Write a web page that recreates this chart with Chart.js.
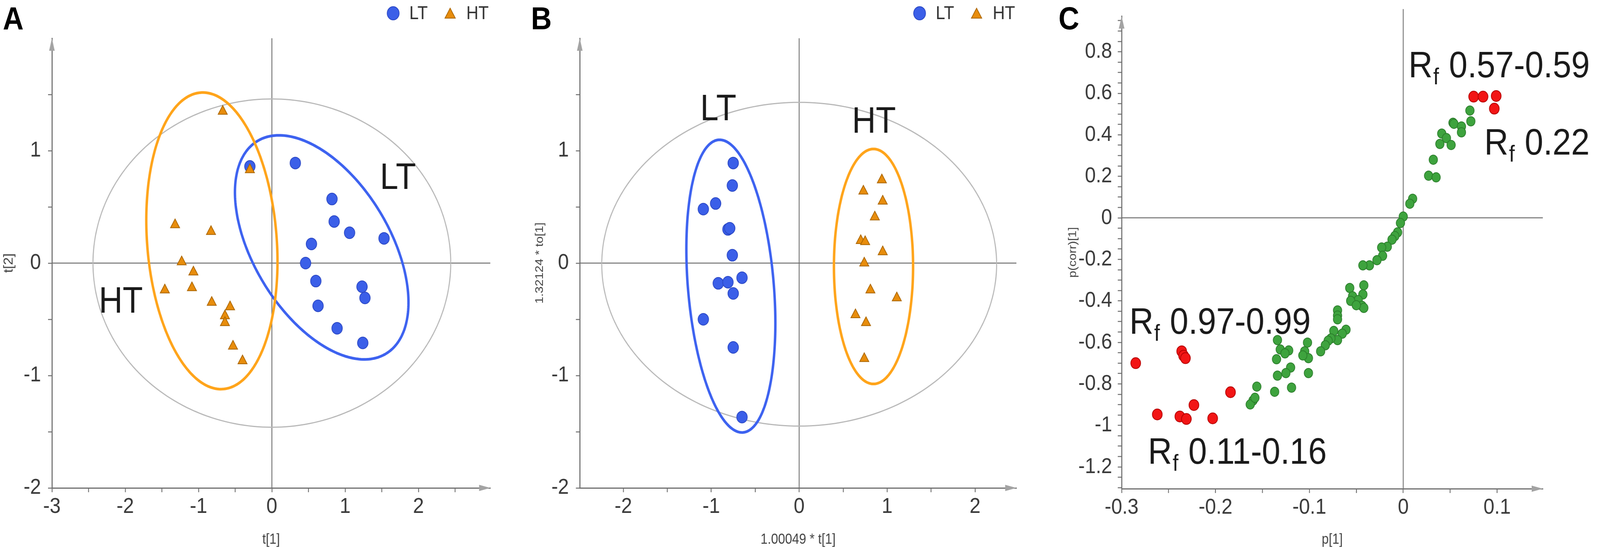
<!DOCTYPE html>
<html>
<head>
<meta charset="utf-8">
<script src="https://cdn.jsdelivr.net/npm/chart.js@4.4.1/dist/chart.umd.min.js"></script>
<style>
  html, body { margin: 0; padding: 0; background: #fff; overflow: hidden; }
  #page { position: absolute; left: 0; top: 0; width: 4562px; height: 1409px; transform-origin: 0 0; }
  .panel { position: absolute; top: 0; height: 1409px; }
  .letter { position: absolute; top: 0; line-height: 1; font: bold 82px "Liberation Sans", Arial, sans-serif; color: #000; }
</style>
</head>
<body>
<div id="page">
<div class="panel" style="left:0;width:1520px"><canvas id="chartA"></canvas></div>
<div class="panel" style="left:1520px;width:1520px"><canvas id="chartB"></canvas></div>
<div class="panel" style="left:3040px;width:1522px"><canvas id="chartC"></canvas></div>
<div class="letter" style="left:8px">A</div>
<div class="letter" style="left:1514px">B</div>
<div class="letter" style="left:3018px">C</div>
</div>
<script>
// Panel A - score plot t[1] / t[2]
const aLtX = [-0.30, 0.32, 0.82, 0.85, 1.06, 1.53, 0.54, 0.46, 0.60, 1.23, 1.27, 0.63, 0.89, 1.24];
const aLtY = [0.86, 0.89, 0.57, 0.37, 0.27, 0.22, 0.17, 0.00, -0.16, -0.21, -0.31, -0.38, -0.58, -0.71];
const aHtX = [-0.67, -0.30, -1.32, -0.83, -1.23, -1.07, -1.46, -1.09, -0.82, -0.57, -0.64, -0.64, -0.53, -0.40];
const aHtY = [1.35, 0.83, 0.34, 0.28, 0.01, -0.08, -0.24, -0.22, -0.35, -0.39, -0.47, -0.53, -0.74, -0.87];
const aXTicks = [-3, -2, -1, 0, 1, 2];
const aXMinor = [-2.5, -1.5, -0.5, 0.5, 1.5, 2.5];
const aYTicks = [-2, -1, 0, 1];
const aYMinor = [-1.5, -0.5, 0.5, 1.5];

// Panel B - 1.00049 * t[1] / 1.32124 * to[1]
const bLtX = [-0.75, -0.76, -0.95, -1.09, -0.81, -0.79, -0.76, -0.65, -0.92, -0.81, -0.75, -1.09, -0.75, -0.65];
const bLtY = [0.89, 0.69, 0.53, 0.48, 0.30, 0.31, 0.07, -0.13, -0.18, -0.17, -0.27, -0.50, -0.75, -1.37];
const bHtX = [0.94, 0.73, 0.95, 0.86, 0.70, 0.75, 0.95, 0.74, 0.81, 1.11, 0.64, 0.76, 0.74];
const bHtY = [0.74, 0.64, 0.55, 0.41, 0.20, 0.19, 0.10, 0.00, -0.24, -0.31, -0.46, -0.53, -0.85];
const bXTicks = [-2, -1, 0, 1, 2];
const bXMinor = [-1.5, -0.5, 0.5, 1.5];
const bYTicks = [-2, -1, 0, 1];
const bYMinor = [-1.5, -0.5, 0.5, 1.5];

// Panel C - S-plot p[1] / p(corr)[1]
const cRedX = [-0.285, -0.236, -0.234, -0.232, -0.262, -0.238, -0.231, -0.223, -0.203, -0.184, 0.075, 0.085, 0.099, 0.097];
const cRedY = [-0.700, -0.643, -0.664, -0.676, -0.947, -0.957, -0.969, -0.902, -0.966, -0.840, 0.584, 0.584, 0.587, 0.526];
const cGreenX = [0.071, 0.072, 0.053, 0.054, 0.062, 0.062, 0.041, 0.046, 0.039, 0.051, 0.032, 0.027, 0.035, 0.010, 0.007,
  0.000, -0.003, -0.006, -0.009, -0.012, -0.017, -0.023, -0.022, -0.028, -0.036, -0.043,
  -0.057, -0.042, -0.043, -0.054, -0.048, -0.056, -0.044, -0.042, -0.050,
  -0.070, -0.070, -0.070, -0.061, -0.065, -0.070, -0.074, -0.077, -0.080, -0.083, -0.088,
  -0.102, -0.105, -0.101, -0.101, -0.107,
  -0.134, -0.131, -0.122, -0.126, -0.135, -0.120, -0.125, -0.134, -0.119, -0.156, -0.137, -0.160, -0.163, -0.158];
const cGreenY = [0.517, 0.465, 0.458, 0.453, 0.440, 0.412, 0.406, 0.384, 0.356, 0.351, 0.280, 0.203, 0.195, 0.092, 0.068,
  0.006, -0.025, -0.070, -0.088, -0.105, -0.139, -0.143, -0.183, -0.204, -0.229, -0.229,
  -0.338, -0.325, -0.369, -0.378, -0.396, -0.400, -0.424, -0.434, -0.421,
  -0.446, -0.471, -0.489, -0.539, -0.558, -0.589, -0.545, -0.581, -0.592, -0.614, -0.643,
  -0.601, -0.643, -0.676, -0.748, -0.663,
  -0.589, -0.634, -0.639, -0.653, -0.681, -0.721, -0.748, -0.760, -0.818, -0.813, -0.838, -0.880, -0.899, -0.867];
const cXTicks = [-0.3, -0.2, -0.1, 0, 0.1];
const cXMinor = [-0.25, -0.15, -0.05, 0.05];
const cYTicks = [-1.2, -1, -0.8, -0.6, -0.4, -0.2, 0, 0.2, 0.4, 0.6, 0.8];

const FONT = '"Liberation Sans", Arial, sans-serif';
const AXIS_GREY = '#6f6f6f';

// the page is laid out at 4562 x 1409; stretch it onto the real viewport
document.getElementById('page').style.transform =
  'scale(' + (window.innerWidth / 4562) + ',' + (window.innerHeight / 1409) + ')';

const pts = (xs, ys) => xs.map((x, i) => ({ x: x, y: ys[i] }));
const fmt = v => String(Math.round(v * 10) / 10);

// minor ticks of the S-plot y axis every 0.05
const cYMinor = [];
for (let h = -130; h <= 95; h += 5) {
  if (!cYTicks.includes(h / 100)) cYMinor.push(h / 100);
}

function axis(o) {
  return {
    type: 'linear',
    min: o.min,
    max: o.max,
    afterFit: s => { if (s.isHorizontal()) s.height = o.size; else s.width = o.size; },
    afterBuildTicks: s => {
      s.ticks = o.ticks.concat(o.minor).sort((p, q) => p - q).map(v => ({ value: v }));
    },
    border: { display: true, color: AXIS_GREY, width: 3 },
    grid: { display: true, drawOnChartArea: false, drawTicks: true, tickLength: 11, tickWidth: 2.5, tickColor: AXIS_GREY },
    ticks: {
      autoSkip: false, maxRotation: 0, padding: o.pad, color: '#3a3a3a',
      font: { family: FONT, size: 56, lineHeight: 0.9 },
      callback: v => o.ticks.includes(v) ? fmt(v) : ''
    },
    title: { display: true, text: o.title, color: '#444', font: { family: FONT, size: o.titleSize || 36 }, padding: o.titlePad }
  };
}

// crosshair, ellipses, axis arrows, notes and legend, all placed through the scales
const decor = {
  id: 'decor',
  beforeDatasetsDraw(chart, args, opts) {
    const { ctx, chartArea: a, scales: { x, y } } = chart;
    ctx.save();
    ctx.strokeStyle = AXIS_GREY;
    ctx.lineWidth = 2.5;
    const x0 = x.getPixelForValue(0), y0 = y.getPixelForValue(0);
    ctx.beginPath();
    ctx.moveTo(x0, a.top - (opts.crossOver || 0)); ctx.lineTo(x0, a.bottom);
    ctx.moveTo(a.left, y0); ctx.lineTo(a.right, y0);
    ctx.stroke();
    (opts.ellipses || []).forEach(e => {
      ctx.strokeStyle = e.color;
      ctx.lineWidth = e.width;
      ctx.beginPath();
      for (let i = 0; i <= 240; i++) {
        const t = i / 240 * 2 * Math.PI;
        const px = x.getPixelForValue(e.c[0] + e.u[0] * Math.cos(t) + e.v[0] * Math.sin(t));
        const py = y.getPixelForValue(e.c[1] + e.u[1] * Math.cos(t) + e.v[1] * Math.sin(t));
        if (i === 0) ctx.moveTo(px, py); else ctx.lineTo(px, py);
      }
      ctx.closePath();
      ctx.stroke();
    });
    ctx.restore();
  },
  afterDraw(chart, args, opts) {
    const { ctx, chartArea: a, scales: { x, y } } = chart;
    ctx.save();
    // arrow heads on the axes
    ctx.fillStyle = '#a3a3a3';
    ctx.beginPath();
    ctx.moveTo(a.left, a.top); ctx.lineTo(a.left - 8, a.top + 32); ctx.lineTo(a.left + 8, a.top + 32);
    ctx.closePath(); ctx.fill();
    ctx.beginPath();
    ctx.moveTo(a.right, a.bottom); ctx.lineTo(a.right - 32, a.bottom - 8); ctx.lineTo(a.right - 32, a.bottom + 8);
    ctx.closePath(); ctx.fill();

    // text notes
    ctx.fillStyle = '#1a1a1a';
    (opts.notes || []).forEach(n => {
      const big = 'normal ' + n.size + 'px ' + FONT;
      const small = 'normal ' + Math.round(n.size * 0.62) + 'px ' + FONT;
      const px = x.getPixelForValue(n.x);
      const py = y.getPixelForValue(n.y);
      ctx.textBaseline = n.sub ? 'alphabetic' : 'middle';
      ctx.font = big;
      const w = ctx.measureText(n.text).width;
      if (n.sub) {
        ctx.font = small;
        const ws = ctx.measureText(n.sub).width;
        ctx.textAlign = 'left';
        ctx.font = big;
        ctx.fillText(n.text, px, py);
        ctx.font = small;
        ctx.fillText(n.sub, px + w + 2, py + n.size * 0.19);
        ctx.font = big;
        ctx.fillText(n.rest, px + w + ws + 4, py);
      } else {
        ctx.textAlign = 'center';
        ctx.fillText(n.text, px, py);
      }
    });

    // legend
    const lg = opts.legend;
    if (lg) {
      let cx = lg.x;
      ctx.font = 'normal ' + lg.size + 'px ' + FONT;
      ctx.textBaseline = 'middle';
      ctx.textAlign = 'left';
      chart.data.datasets.forEach((ds, i) => {
        const r = 17;
        if (i > 0) cx += r;
        ctx.fillStyle = ds.backgroundColor;
        ctx.strokeStyle = ds.borderColor;
        ctx.lineWidth = ds.borderWidth;
        Chart.helpers.drawPoint(ctx, { pointStyle: ds.pointStyle, radius: r, rotation: 0, borderWidth: ds.borderWidth },
          cx, lg.y + (ds.pointStyle === 'triangle' ? 4 : 0));
        ctx.fillStyle = '#333';
        ctx.fillText(ds.label, cx + 46, lg.y + 2);
        cx += 46 + ctx.measureText(ds.label).width + 47;
      });
    }
    ctx.restore();
  }
};

const LT_STYLE = { pointStyle: 'circle', backgroundColor: '#3b5fe8', borderColor: '#2a47c4', borderWidth: 2, pointRadius: 15 };
const HT_STYLE = { pointStyle: 'triangle', backgroundColor: '#e88d0c', borderColor: '#a96400', borderWidth: 2, pointRadius: 15 };

function scoreChart(id, d) {
  return new Chart(document.getElementById(id), {
    type: 'scatter',
    data: {
      datasets: [
        Object.assign({ label: 'LT', data: pts(d.ltX, d.ltY), order: 1 }, LT_STYLE),
        Object.assign({ label: 'HT', data: pts(d.htX, d.htY), order: 0 }, HT_STYLE)
      ]
    },
    options: {
      responsive: true,
      maintainAspectRatio: false,
      animation: false,
      events: [],
      layout: { padding: { top: 98, right: d.right, left: 0, bottom: 0 } },
      scales: {
        x: axis({ min: d.xMin, max: d.xMax, ticks: d.xTicks, minor: d.xMinor, size: 159, pad: 12, title: d.xTitle, titlePad: { top: 0, bottom: 4 } }),
        y: axis({ min: -2, max: 2, ticks: d.yTicks, minor: d.yMinor, size: d.left, pad: 20, title: d.yTitle, titleSize: d.yTitleSize, titlePad: d.yTitlePad })
      },
      plugins: {
        legend: { display: false },
        tooltip: { enabled: false },
        decor: { ellipses: d.ellipses, notes: d.notes, legend: d.legend }
      }
    },
    plugins: [decor]
  });
}

scoreChart('chartA', {
  ltX: aLtX, ltY: aLtY, htX: aHtX, htY: aHtY,
  xMin: -3, xMax: 2.98, xTicks: aXTicks, xMinor: aXMinor, yTicks: aYTicks, yMinor: aYMinor,
  left: 148, right: 122, xTitle: 't[1]', yTitle: 't[2]', yTitlePad: { top: 4, bottom: 0 },
  ellipses: [
    { c: [0, 0], u: [2.44, 0], v: [0, 1.46], color: '#b8b8b8', width: 3 },
    { c: [0.68, 0.14], u: [0.937, -0.918], v: [-0.723, -0.388], color: '#3d62f0', width: 7 },
    { c: [-0.818, 0.198], u: [0.162, -1.318], v: [-0.880, -0.057], color: '#ffa41a', width: 7 }
  ],
  notes: [
    { text: 'LT', x: 1.72, y: 0.75, size: 94 },
    { text: 'HT', x: -2.06, y: -0.35, size: 94 }
  ],
  legend: { x: 1121, y: 34, size: 48 }
});

scoreChart('chartB', {
  ltX: bLtX, ltY: bLtY, htX: bHtX, htY: bHtY,
  xMin: -2.495, xMax: 2.47, xTicks: bXTicks, xMinor: bXMinor, yTicks: bYTicks, yMinor: bYMinor,
  left: 133, right: 142, xTitle: '1.00049 * t[1]', yTitle: '1.32124 * to[1]', yTitleSize: 32, yTitlePad: { top: 0, bottom: 0 },
  ellipses: [
    { c: [0, -0.01], u: [2.245, 0], v: [0, 1.44], color: '#b8b8b8', width: 3 },
    { c: [-0.777, -0.205], u: [0.1425, -1.301], v: [-0.4855, -0.0404], color: '#3d62f0', width: 7 },
    { c: [0.845, -0.03], u: [0, 1.045], v: [0.45, 0], color: '#ffa41a', width: 7 }
  ],
  notes: [
    { text: 'LT', x: -0.92, y: 1.36, size: 94 },
    { text: 'HT', x: 0.85, y: 1.25, size: 94 }
  ],
  legend: { x: 1102, y: 34, size: 48 }
});

new Chart(document.getElementById('chartC'), {
  type: 'scatter',
  data: {
    datasets: [
      { label: 'other', data: pts(cGreenX, cGreenY), order: 1, pointStyle: 'circle', pointRadius: 12,
        backgroundColor: '#3ea33e', borderColor: '#2b7d2b', borderWidth: 2 },
      { label: 'Rf', data: pts(cRedX, cRedY), order: 0, pointStyle: 'circle', pointRadius: 14,
        backgroundColor: '#f21515', borderColor: '#b30000', borderWidth: 2 }
    ]
  },
  options: {
    responsive: true,
    maintainAspectRatio: false,
    animation: false,
    events: [],
    layout: { padding: { top: 27, right: 163, left: 0, bottom: 0 } },
    scales: {
      x: axis({ min: -0.3, max: 0.1487, ticks: cXTicks, minor: cXMinor, size: 157, pad: 12, title: 'p[1]', titlePad: { top: 0, bottom: 4 } }),
      y: axis({ min: -1.305, max: 0.972, ticks: cYTicks, minor: cYMinor, size: 158, pad: 16, title: 'p(corr)[1]', titleSize: 32, titlePad: { top: 0, bottom: 0 } })
    },
    plugins: {
      legend: { display: false },
      tooltip: { enabled: false },
      decor: {
        crossOver: 18,
        notes: [
          { text: 'R', sub: 'f', rest: ' 0.57-0.59', x: 0.0056, y: 0.678, size: 95 },
          { text: 'R', sub: 'f', rest: ' 0.22', x: 0.0863, y: 0.305, size: 95 },
          { text: 'R', sub: 'f', rest: ' 0.97-0.99', x: -0.2917, y: -0.559, size: 95 },
          { text: 'R', sub: 'f', rest: ' 0.11-0.16', x: -0.272, y: -1.184, size: 95 }
        ]
      }
    }
  },
  plugins: [decor]
});
</script>
</body>
</html>
